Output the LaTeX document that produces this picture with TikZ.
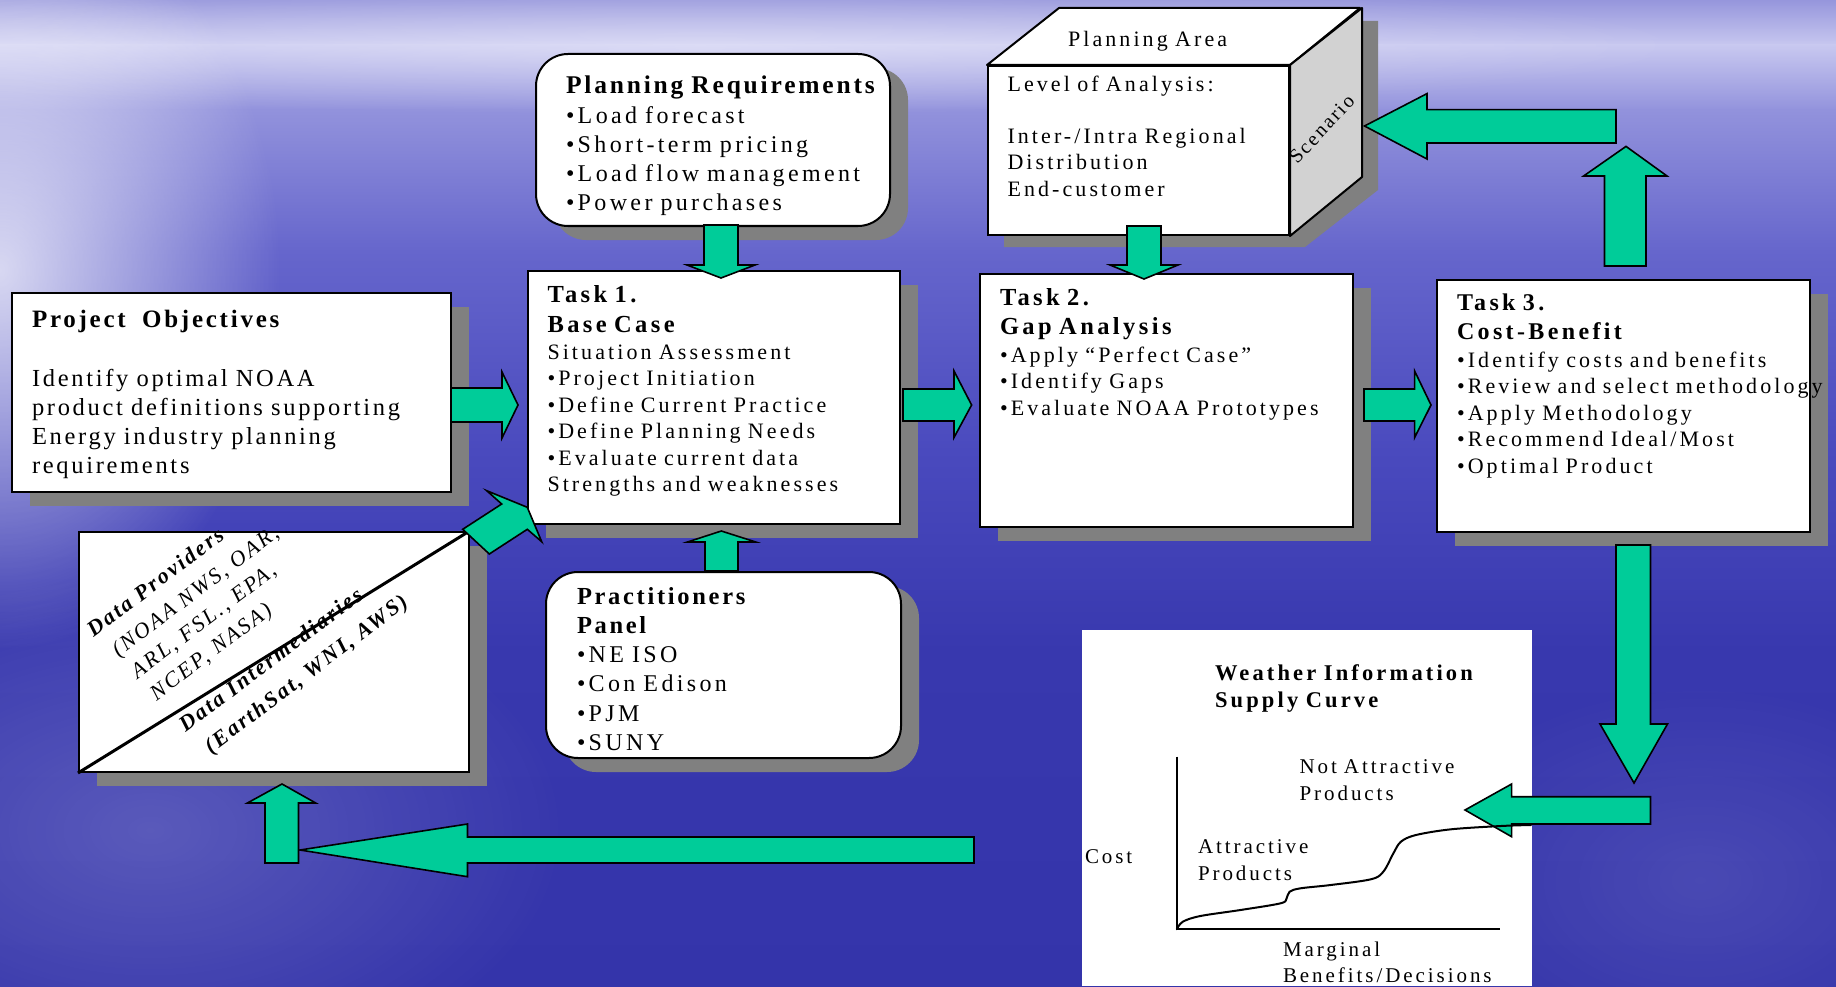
\documentclass[tikz,border=0pt]{standalone}
\usepackage{fontspec}
\setmainfont{Liberation Serif}[LetterSpace=14]
\newfontfamily\tightserif{Liberation Serif}[LetterSpace=11]
\usetikzlibrary{shadows,fadings}

\definecolor{arrowgreen}{RGB}{0,204,153}
\definecolor{shadowgray}{RGB}{128,128,128}
\definecolor{cubeside}{RGB}{210,210,210}
\definecolor{skyTop}{RGB}{150,150,220}
\definecolor{skyStreak}{RGB}{200,200,240}
\definecolor{skyHi}{RGB}{146,146,220}
\definecolor{skyUp}{RGB}{102,102,204}
\definecolor{skyMid}{RGB}{74,74,190}
\definecolor{skyLow}{RGB}{56,56,174}
\definecolor{skyBot}{RGB}{52,52,170}

\newcommand\setfs[2]{\fontsize{#1pt}{#2pt}\selectfont}

\tikzfading[name=softglow, inner color=transparent!0, outer color=transparent!100]

\tikzset{
  panel/.style={draw=black, line width=2pt, fill=white, inner sep=0pt, anchor=north west,
    drop shadow={shadow xshift=18pt, shadow yshift=-14pt, fill=shadowgray, opacity=1}},
  roundpanel/.style={panel, rounded corners=32pt},
  blockarrow/.style={fill=arrowgreen, draw=black, line width=1.6pt, line join=miter},
  txt/.style={anchor=base west, inner sep=0pt, outer sep=0pt, align=left, text width=420pt},
  slanted/.style={anchor=base west, inner sep=0pt, outer sep=0pt, rotate=37, font=\tightserif\setfs{22}{26}\itshape},
  axisline/.style={line width=2pt, draw=black},
}

\begin{document}
\begin{tikzpicture}[x=1pt, y=-1pt]
\useasboundingbox (0,0) rectangle (1836,987);

% sky-blue backdrop
\begin{scope}
\clip (0,0) rectangle (1836,987);
\fill[top color=skyTop, bottom color=skyStreak] (0,0) rectangle (1836,46);
\fill[top color=skyStreak, bottom color=skyHi] (0,45) rectangle (1836,111);
\fill[top color=skyHi, bottom color=skyUp] (0,110) rectangle (1836,251);
\fill[top color=skyUp, bottom color=skyMid] (0,250) rectangle (1836,451);
\fill[top color=skyMid, bottom color=skyLow] (0,450) rectangle (1836,651);
\fill[top color=skyLow, bottom color=skyBot] (0,650) rectangle (1836,987);
\fill[white, opacity=0.75, path fading=softglow] (0,270) ellipse [x radius=280pt, y radius=380pt];
\fill[white, opacity=0.35, path fading=softglow] (700,45) ellipse [x radius=1000pt, y radius=70pt];
\fill[white, opacity=0.18, path fading=softglow] (150,830) ellipse [x radius=420pt, y radius=260pt];
\fill[white, opacity=0.10, path fading=softglow] (1700,880) ellipse [x radius=300pt, y radius=200pt];
\end{scope}

% boxes
\node[roundpanel, minimum width=354pt, minimum height=172pt] (req) at (535,53) {};
\node[panel, minimum width=439pt, minimum height=199pt] (obj) at (11,292) {};
\node[panel, minimum width=372pt, minimum height=253pt] (task1) at (527,270) {};
\node[panel, minimum width=373pt, minimum height=253pt] (task2) at (979,273) {};
\node[panel, minimum width=373pt, minimum height=252pt] (task3) at (1436,279) {};
\node[roundpanel, minimum width=355pt, minimum height=186pt] (panel) at (545,571) {};
\node[panel, minimum width=389.5pt, minimum height=240pt] (data) at (78,531) {};
\draw[line width=3pt] (data.south west) -- (data.north east);

% planning-area cube
\fill[shadowgray] (1004,78) -- (1077,21) -- (1378,21) -- (1378,190) -- (1305,247) -- (1004,247) -- cycle;
\node[draw=black, line width=2pt, fill=white, inner sep=0pt, anchor=north west,
  minimum width=301pt, minimum height=169pt] (cube) at (987,65) {};
\draw[line width=2pt, fill=white, line join=round] (cube.north west) -- ++(72,-57) -- ++(301,0) -- (cube.north east) -- cycle;
\draw[line width=2pt, fill=cubeside, line join=round] (cube.north east) -- ++(72,-57) -- ++(0,169) -- (cube.south east) -- cycle;

% supply-curve chart
\node[fill=white, inner sep=0pt, anchor=north west, minimum width=450pt, minimum height=356pt] (chart) at (1082,630) {};
\coordinate (origin) at (1176.8,929.3);
\draw[axisline] (1176.8,756.7) -- (origin) -- (1500,929.3);

% block arrows
\draw[blockarrow] (451,388) -- (502,388) -- (502,372) -- (518,405) -- (502,438) -- (502,422) -- (451,422) -- cycle;
\draw[blockarrow] (903,389) -- (954,389) -- (954,371) -- (971.6,405) -- (954,437.5) -- (954,421) -- (903,421) -- cycle;
\draw[blockarrow] (1364,389) -- (1414.6,389) -- (1414.6,371) -- (1431,405) -- (1414.6,437.5) -- (1414.6,421) -- (1364,421) -- cycle;
\draw[blockarrow] (704,225) -- (738,225) -- (738,265) -- (755,265) -- (721,278) -- (687,265) -- (704,265) -- cycle;
\draw[blockarrow] (1127,226) -- (1161,226) -- (1161,265) -- (1178,265) -- (1144,279) -- (1110,265) -- (1127,265) -- cycle;
\draw[blockarrow] (705,571) -- (738,571) -- (738,542) -- (755.7,542) -- (721.3,531) -- (687.5,542) -- (705,542) -- cycle;
\draw[blockarrow] (1604.5,266) -- (1646,266) -- (1646,176) -- (1667,176) -- (1626,146.4) -- (1583.6,176) -- (1604.5,176) -- cycle;
\draw[blockarrow] (1616,109.6) -- (1427,109.6) -- (1427,93.6) -- (1364.5,126) -- (1427,159) -- (1427,143) -- (1616,143) -- cycle;
\draw[blockarrow] (1616,545) -- (1650.5,545) -- (1650.5,724) -- (1667.5,724) -- (1634,783) -- (1600,724) -- (1616,724) -- cycle;
\draw[blockarrow] (1650.5,796.7) -- (1511.6,796.7) -- (1511.6,784) -- (1465,810) -- (1511.6,836.7) -- (1511.6,824) -- (1650.5,824) -- cycle;
\draw[blockarrow] (974,837) -- (467.5,837) -- (467.5,824) -- (300,850) -- (467.5,876.7) -- (467.5,863) -- (974,863) -- cycle;
\draw[blockarrow] (265,863) -- (298.5,863) -- (298.5,803) -- (315.7,803) -- (282,784) -- (247.4,803) -- (265,803) -- cycle;
\draw[blockarrow] (462.7,529.3) -- (501.7,504) -- (486.7,490.7) -- (527.3,507.3) -- (541.7,541.7) -- (527.3,529.3) -- (489.3,554) -- cycle;

% supply curve
\draw[line width=2pt, line cap=round] plot[smooth, tension=0.55] coordinates {
  (origin) (1182.8,921.7) (1200.4,916) (1240.5,910) (1280.6,903.3) (1286.6,898.3)
  (1289.6,891.7) (1300.6,888.3) (1330.7,885) (1370.8,879.3) (1383.3,871.7)
  (1393.4,853.3) (1400.9,841.7) (1416,835) (1451,829.3) (1501,826) (1531,825)};

% texts
\node[txt, font=\setfs{24}{29.2}] (reqtext) at (566,94)
  {{\tightserif\setfs{25.5}{29.2}\bfseries Planning Requirements}\\•Load forecast\\•Short-term pricing\\•Load flow management\\•Power purchases};
\node[txt, font=\tightserif\setfs{24.5}{29}] (objtext) at (32,327)
  {{\setfs{25}{29}\bfseries Project\ \ Objectives}\\[30pt]Identify optimal NOAA\\product definitions supporting\\Energy industry planning\\requirements};
\node[txt, font=\setfs{22}{26.5}] (task1text) at (547.5,302)
  {{\setfs{24.5}{26.5}\bfseries Task 1.}\\[3.5pt]{\setfs{24.5}{26.5}\bfseries Base Case}\\[0.8pt]Situation Assessment\\•Project Initiation\\•Define Current Practice\\•Define Planning Needs\\•Evaluate current data\\Strengths and weaknesses};
\node[txt, font=\setfs{22}{26.3}] (task2text) at (1000,305.4)
  {{\setfs{24.5}{26.3}\bfseries Task 2.}\\[2.3pt]{\setfs{24.5}{26.3}\bfseries Gap Analysis}\\[2.2pt]•Apply “Perfect Case”\\•Identify Gaps\\•Evaluate NOAA Prototypes};
\node[txt, font=\setfs{22}{26.5}] (task3text) at (1457,310.7)
  {{\setfs{24}{26.5}\bfseries Task 3.}\\[2pt]{\setfs{24}{26.5}\bfseries Cost-Benefit}\\[1.3pt]•Identify costs and benefits\\•Review and select methodology\\•Apply Methodology\\•Recommend Ideal/Most\\•Optimal Product};
\node[txt, font=\setfs{22}{26.3}] (areatext) at (1068,46.4) {Planning Area};
\node[txt, font=\setfs{22}{26.3}] (leveltext) at (1007.5,91.4)
  {Level of Analysis:\\[26pt]Inter-/Intra Regional\\Distribution\\End-customer};
\node[inner sep=0pt, rotate=47, font=\tightserif\setfs{20}{24}] (scenario) at (1321.7,129.2) {Scenario};
\node[txt, font=\setfs{24}{29.3}] (paneltext) at (577,604)
  {{\tightserif\setfs{24.5}{29.3}\bfseries Practitioners}\\{\tightserif\setfs{24.5}{29.3}\bfseries Panel}\\•NE ISO\\•Con Edison\\•PJM\\•SUNY};

\node[txt, font=\setfs{22.5}{26.3}\bfseries] (charttitle) at (1215,680.7) {Weather Information\\Supply Curve};
\node[txt, font=\setfs{21}{27}] (costlabel) at (1085,863) {Cost};
\node[txt, font=\setfs{21}{27}] (notattr) at (1299.6,773) {Not Attractive\\Products};
\node[txt, font=\setfs{21}{27}] (attr) at (1198,853) {Attractive\\Products};
\node[txt, font=\setfs{21}{26.7}] (marginal) at (1283,956) {Marginal\\Benefits/Decisions};

\node[slanted, font=\tightserif\setfs{22}{26}\bfseries\itshape] (prov1) at (93.5,637.7) {Data Providers};
\node[slanted] (prov2) at (118.5,657.7) {(NOAA NWS, OAR,};
\node[slanted] (prov3) at (137.5,679) {ARL, FSL., EPA,};
\node[slanted] (prov4) at (156.5,701) {NCEP, NASA)};
\node[slanted, font=\tightserif\setfs{22}{26}\bfseries\itshape] (inter1) at (185.5,732.7) {Data Intermediaries};
\node[slanted, font=\tightserif\setfs{22}{26}\bfseries\itshape] (inter2) at (211,754) {(EarthSat, WNI, AWS)};
\end{tikzpicture}
\end{document}
